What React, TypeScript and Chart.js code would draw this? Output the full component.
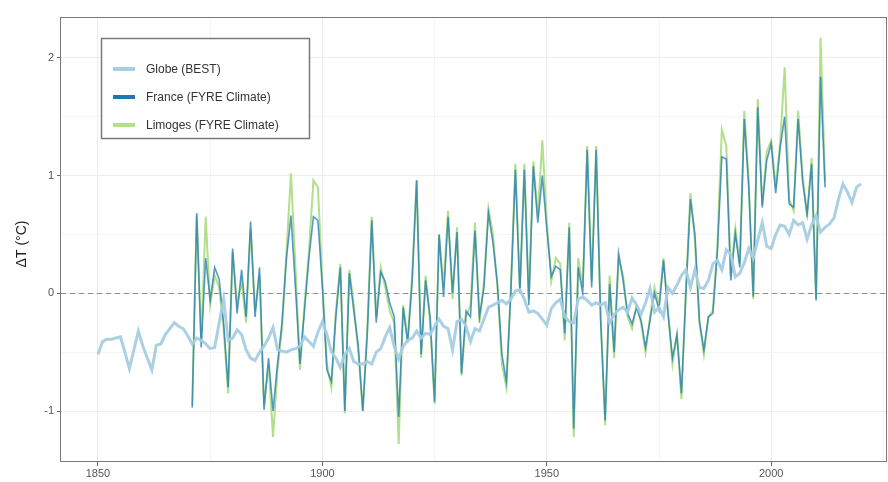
import React, { useEffect, useRef } from "react";
import { Chart, registerables } from "chart.js";
Chart.register(...registerables);

// ---- data ----
const globeStartYear = 1850;
const globeValues = [
  -0.52, -0.41, -0.39, -0.39, -0.38, -0.37, -0.5, -0.64, -0.48, -0.32,
  -0.45, -0.55, -0.65, -0.44, -0.43, -0.35, -0.3, -0.25, -0.28, -0.3,
  -0.36, -0.43, -0.38, -0.4, -0.43, -0.47, -0.46, -0.25, -0.05, -0.4,
  -0.38, -0.31, -0.35, -0.48, -0.55, -0.57, -0.5, -0.45, -0.38, -0.29,
  -0.48, -0.49, -0.5, -0.48, -0.47, -0.45, -0.37, -0.41, -0.45, -0.33,
  -0.24, -0.35, -0.5, -0.55, -0.63, -0.52, -0.47, -0.58, -0.6, -0.6,
  -0.58, -0.6, -0.5, -0.47, -0.37, -0.29, -0.45, -0.56, -0.45, -0.4,
  -0.38, -0.32, -0.38, -0.34, -0.35, -0.28, -0.22, -0.28, -0.3, -0.48,
  -0.24, -0.22, -0.28, -0.41, -0.3, -0.32, -0.22, -0.12, -0.1, -0.08,
  -0.06, -0.09, -0.05, 0.02, 0.03, -0.05, -0.16, -0.15, -0.17, -0.22,
  -0.27, -0.13, -0.08, -0.05, -0.2, -0.24, -0.25, -0.05, -0.03, -0.06,
  -0.1, -0.08, -0.1, -0.08, -0.25, -0.18, -0.14, -0.12, -0.16, -0.04,
  -0.1, -0.18, -0.08, 0.04, -0.16, -0.12, -0.2, 0.05, 0.0, 0.07,
  0.15, 0.2, 0.05, 0.2, 0.05, 0.04, 0.11, 0.25, 0.28, 0.2,
  0.37, 0.33, 0.14, 0.17, 0.26, 0.38, 0.3, 0.45, 0.6, 0.4,
  0.38, 0.5, 0.58, 0.57, 0.5, 0.62, 0.58, 0.6, 0.46, 0.58,
  0.66, 0.52, 0.56, 0.59, 0.64, 0.8, 0.93, 0.86, 0.77, 0.9,
  0.93,
];

const fyreStartYear = 1871;
const franceValues = [
  -0.97, 0.68, -0.46, 0.3, -0.06, 0.22, 0.12, -0.26, -0.8, 0.38,
  -0.17, 0.2, -0.2, 0.61, -0.2, 0.22, -0.99, -0.55, -1.0, -0.6,
  -0.25, 0.3, 0.66, 0.05, -0.6, -0.15, 0.3, 0.65, 0.62, 0.05,
  -0.65, -0.75, -0.2, 0.22, -1.0, 0.17, -0.15, -0.45, -1.0, -0.35,
  0.62, -0.25, 0.18, 0.1, -0.08, -0.2, -1.05, -0.12, -0.42, 0.1,
  0.96, -0.52, 0.11, -0.2, -0.92, 0.5, -0.03, 0.65, 0.0, 0.52,
  -0.68, -0.15, -0.2, 0.53, -0.2, 0.05, 0.68, 0.43, 0.08, -0.52,
  -0.75, 0.02, 1.05, 0.0, 1.05, -0.1, 1.08, 0.6, 1.0, 0.55,
  0.14, 0.23, 0.2, -0.34, 0.56, -1.15, 0.22, 0.0, 1.22, 0.05,
  1.22, -0.23, -1.08, 0.08, -0.5, 0.34, 0.11, -0.17, -0.26, -0.12,
  -0.23, -0.46, -0.23, 0.0, -0.14, 0.28, -0.17, -0.55, -0.35, -0.85,
  0.0, 0.8, 0.5, -0.23, -0.48, -0.2, -0.17, 0.35, 1.16, 1.14,
  0.11, 0.51, 0.22, 1.48, 0.9, -0.03, 1.58, 0.73, 1.13, 1.27,
  0.85, 1.24, 1.5, 0.76, 0.73, 1.48, 0.95, 0.67, 1.1, -0.06,
  1.84, 0.9,
];

const limogesValues = [
  -0.95, 0.66, -0.4, 0.65, -0.1, 0.15, 0.05, -0.3, -0.85, 0.35,
  -0.1, 0.1, -0.25, 0.55, -0.15, 0.15, -0.95, -0.6, -1.22, -0.65,
  -0.3, 0.35, 1.02, 0.22, -0.65, -0.1, 0.35, 0.96, 0.9, 0.1,
  -0.6, -0.8, -0.15, 0.25, -1.02, 0.2, -0.1, -0.5, -1.0, -0.3,
  0.65, -0.2, 0.22, 0.05, -0.15, -0.25, -1.28, -0.1, -0.4, 0.15,
  0.96, -0.55, 0.15, -0.25, -0.94, 0.5, 0.05, 0.7, -0.05, 0.56,
  -0.7, -0.2, -0.1, 0.6, -0.25, 0.1, 0.72, 0.5, 0.05, -0.6,
  -0.8, 0.05, 1.1, 0.05, 1.1, -0.05, 1.12, 0.65, 1.3, 0.6,
  0.1, 0.3, 0.25, -0.4, 0.6, -1.22, 0.3, 0.05, 1.25, 0.1,
  1.25, -0.2, -1.12, 0.15, -0.55, 0.3, 0.15, -0.2, -0.3, -0.1,
  -0.25, -0.5, -0.2, 0.05, -0.1, 0.3, -0.15, -0.6, -0.35, -0.9,
  0.05, 0.85, 0.45, -0.25, -0.52, -0.2, -0.15, 0.4, 1.39, 1.25,
  0.15, 0.55, 0.25, 1.55, 0.95, -0.05, 1.65, 0.75, 1.2, 1.3,
  0.9, 1.28, 1.92, 0.8, 0.7, 1.55, 1.0, 0.65, 1.15, -0.05,
  2.17, 0.95,
];

const seriesLabels = ["Globe (BEST)", "France (FYRE Climate)", "Limoges (FYRE Climate)"];
const seriesColors = ["#a6cee3", "#1f78b4", "#b2df8a"];
const xGridYears = [1850, 1875, 1900, 1925, 1950, 1975, 2000, 2025];
const xLabelYears = [1850, 1900, 1950, 2000];
const yGridValues = [-1, -0.5, 0, 0.5, 1, 1.5, 2];
const yLabelValues = [-1, 0, 1, 2];
const yAxisTitle = "ΔT (°C)";

const toPoints = (start: number, vals: number[]) =>
  vals.map((v, i) => ({ x: start + i, y: v }));

const FONT = "'Liberation Sans', Arial, Helvetica, sans-serif";

const decorPlugin = {
  id: "decor",
  beforeDatasetsDraw(chart: any) {
    const { ctx, chartArea, scales } = chart;
    const y0 = Math.round(scales.y.getPixelForValue(0)) + 0.5;
    ctx.save();
    ctx.strokeStyle = "#8c8c8c";
    ctx.lineWidth = 1;
    ctx.setLineDash([5, 4]);
    ctx.beginPath();
    ctx.moveTo(chartArea.left, y0);
    ctx.lineTo(chartArea.right, y0);
    ctx.stroke();
    ctx.restore();
  },
  afterDraw(chart: any) {
    const { ctx, chartArea } = chart;
    ctx.save();
    // panel border
    ctx.strokeStyle = "#7a7a7a";
    ctx.lineWidth = 1;
    ctx.strokeRect(
      Math.round(chartArea.left) - 0.5,
      Math.round(chartArea.top) + 0.5,
      Math.round(chartArea.right - chartArea.left),
      Math.round(chartArea.bottom - chartArea.top) - 1
    );
    // y-axis title
    ctx.translate(22, 244);
    ctx.rotate(-Math.PI / 2);
    ctx.fillStyle = "#222";
    ctx.font = `14px ${FONT}`;
    ctx.textAlign = "center";
    ctx.textBaseline = "middle";
    ctx.fillText(yAxisTitle, 0, 0);
    ctx.restore();

    // legend
    ctx.save();
    const bx = 101.5, by = 38.5, bw = 208, bh = 100;
    ctx.fillStyle = "#ffffff";
    ctx.fillRect(bx, by, bw, bh);
    ctx.strokeStyle = "#7a7a7a";
    ctx.lineWidth = 1.5;
    ctx.strokeRect(bx, by, bw, bh);
    const rows = [69, 97, 125];
    ctx.font = `12px ${FONT}`;
    ctx.textBaseline = "middle";
    ctx.textAlign = "left";
    seriesLabels.forEach((lab, i) => {
      ctx.strokeStyle = seriesColors[i];
      ctx.lineWidth = 4;
      ctx.beginPath();
      ctx.moveTo(113, rows[i]);
      ctx.lineTo(135, rows[i]);
      ctx.stroke();
      ctx.fillStyle = "#333";
      ctx.fillText(lab, 146, rows[i] + 0.5);
    });
    ctx.restore();
  },
};

export default function App() {
  const ref = useRef<HTMLCanvasElement | null>(null);
  useEffect(() => {
    if (!ref.current) return;
    const chart = new Chart(ref.current, {
      type: "line",
      data: {
        datasets: [
          {
            label: seriesLabels[0],
            data: toPoints(globeStartYear, globeValues),
            borderColor: "rgba(166,206,227,0.95)",
            borderWidth: 3,
            pointRadius: 0,
            tension: 0,
            order: 0,
          },
          {
            label: seriesLabels[2],
            data: toPoints(fyreStartYear, limogesValues),
            borderColor: seriesColors[2],
            borderWidth: 2,
            pointRadius: 0,
            tension: 0,
            order: 2,
          },
          {
            label: seriesLabels[1],
            data: toPoints(fyreStartYear, franceValues),
            borderColor: "rgba(31,120,180,0.75)",
            borderWidth: 1.6,
            pointRadius: 0,
            tension: 0,
            order: 1,
          },
        ],
      },
      options: {
        animation: false,
        responsive: false,
        devicePixelRatio: 1,
        parsing: true,
        layout: { padding: { left: 0, top: 17, right: 1, bottom: 0 } },
        plugins: { legend: { display: false }, tooltip: { enabled: false } },
        scales: {
          x: {
            type: "linear",
            min: 1841.76,
            max: 2025.8,
            afterBuildTicks: (s: any) => {
              s.ticks = xGridYears.map((v) => ({ value: v }));
            },
            afterFit: (s: any) => {
              s.height = 20;
            },
            ticks: {
              autoSkip: false,
              maxRotation: 0,
              padding: 1,
              color: "#555",
              font: { family: FONT, size: 11 },
              callback: (v: any) => (xLabelYears.includes(Number(v)) ? String(v) : ""),
            },
            grid: {
              color: (c: any) =>
                xLabelYears.includes(c.tick?.value) ? "#ececec" : "#f4f4f4",
              lineWidth: 1,
              tickLength: 4,
              tickColor: (c: any) =>
                xLabelYears.includes(c.tick?.value) ? "#666" : "rgba(0,0,0,0)",
            },
            border: { display: false },
          },
          y: {
            type: "linear",
            min: -1.433,
            max: 2.347,
            afterBuildTicks: (s: any) => {
              s.ticks = yGridValues.map((v) => ({ value: v }));
            },
            afterFit: (s: any) => {
              s.width = 61;
            },
            ticks: {
              autoSkip: false,
              padding: 3,
              color: "#555",
              font: { family: FONT, size: 11 },
              callback: (v: any) => (yLabelValues.includes(Number(v)) ? String(v) : ""),
            },
            grid: {
              color: (c: any) =>
                yLabelValues.includes(c.tick?.value) ? "#ececec" : "#f4f4f4",
              lineWidth: 1,
              tickLength: 4,
              tickColor: (c: any) =>
                yLabelValues.includes(c.tick?.value) ? "#666" : "rgba(0,0,0,0)",
            },
            border: { display: false },
          },
        },
      },
      plugins: [decorPlugin],
    });
    return () => chart.destroy();
  }, []);

  return (
    <div
      style={{
        position: "fixed",
        left: 0,
        top: 0,
        width: 888,
        height: 482,
        background: "#ffffff",
      }}
    >
      <canvas ref={ref} width={888} height={482} style={{ display: "block" }} />
    </div>
  );
}
